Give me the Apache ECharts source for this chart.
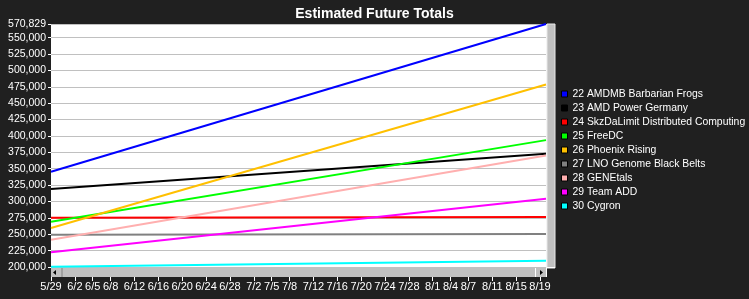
<!DOCTYPE html>
<html>
<head>
<meta charset="utf-8">
<script src="https://cdn.jsdelivr.net/npm/echarts@6/dist/echarts.min.js"></script>
<style>
html,body{margin:0;padding:0;background:#202020;}
#c{width:749px;height:299px;}
</style>
</head>
<body>
<div id="c"></div>
<script>
// Daily categories 5/29 .. 8/20
var categories = [
  "5/29","5/30","5/31",
  "6/1","6/2","6/3","6/4","6/5","6/6","6/7","6/8","6/9","6/10","6/11","6/12","6/13","6/14","6/15",
  "6/16","6/17","6/18","6/19","6/20","6/21","6/22","6/23","6/24","6/25","6/26","6/27","6/28","6/29","6/30",
  "7/1","7/2","7/3","7/4","7/5","7/6","7/7","7/8","7/9","7/10","7/11","7/12","7/13","7/14","7/15","7/16",
  "7/17","7/18","7/19","7/20","7/21","7/22","7/23","7/24","7/25","7/26","7/27","7/28","7/29","7/30","7/31",
  "8/1","8/2","8/3","8/4","8/5","8/6","8/7","8/8","8/9","8/10","8/11","8/12","8/13","8/14","8/15","8/16",
  "8/17","8/18","8/19","8/20"
];
// Labelled ticks on the x axis
var tickLabels = ["5/29","6/2","6/5","6/8","6/12","6/16","6/20","6/24","6/28","7/2","7/5","7/8",
  "7/12","7/16","7/20","7/24","7/28","8/1","8/4","8/7","8/11","8/15","8/19"];

var seriesNames = [
  "22 AMDMB Barbarian Frogs",
  "23 AMD Power Germany",
  "24 SkzDaLimit Distributed Computing",
  "25 FreeDC",
  "26 Phoenix Rising",
  "27 LNO Genome Black Belts",
  "28 GENEtals",
  "29 Team ADD",
  "30 Cygron"
];
// Estimated totals on the first (5/29) and last (8/20) day
var startValues = [345300, 318900, 275150, 269050, 259450, 249250, 241600, 222400, 200450];
var endValues   = [570829, 372700, 276200, 393600, 478500, 250300, 370300, 304100, 209600];

var yMin = 200000, yMax = 570829, yStep = 25000;

var colors = ["#0000ff","#000000","#ff0000","#00ff00","#ffc000","#808080","#ffafaf","#ff00ff","#00ffff"];

var chart = echarts.init(document.getElementById('c'), null, {renderer:'canvas'});
var FONT = "Liberation Sans";
var showTick = function(idx, val){ return tickLabels.indexOf(val) >= 0; };

var series = seriesNames.map(function(n, i){
  return {
    name: n, type: 'line', symbol: 'none', silent: true,
    lineStyle: {width: 2, color: colors[i]},
    itemStyle: {color: colors[i], borderColor: '#000', borderWidth: 1},
    data: [[categories[0], startValues[i]], [categories[categories.length-1], endValues[i]]],
    animation: false
  };
});

chart.setOption({
  backgroundColor: '#202020',
  animation: false,
  title: {
    text: 'Estimated Future Totals', left: 'center', top: 2,
    textStyle: {color: '#fff', fontFamily: FONT, fontWeight: 'bold', fontSize: 14}
  },
  grid: {left: 51, top: 24, width: 495, height: 243, show: true, backgroundColor: '#fff', borderWidth: 0, containLabel: false},
  xAxis: {
    type: 'category', data: categories, boundaryGap: false, offset: 10,
    axisLine: {show: false},
    axisTick: {show: true, interval: showTick, length: 4, lineStyle: {color: '#fff'}},
    axisLabel: {interval: showTick, color: '#fff', fontFamily: FONT, fontSize: 11, margin: 4},
    splitLine: {show: false}
  },
  yAxis: {
    type: 'value', min: yMin, max: yMax, interval: yStep,
    axisLine: {show: false},
    axisTick: {show: true, length: 3, lineStyle: {color: '#fff'}},
    axisLabel: {color: '#fff', fontFamily: FONT, fontSize: 10.5, margin: 5, showMaxLabel: true, showMinLabel: true},
    splitLine: {show: true, lineStyle: {color: '#c0c0c0', width: 1}}
  },
  legend: {
    orient: 'vertical', left: 556, top: 82, itemWidth: 6, itemHeight: 6, itemGap: 0,
    icon: 'rect', selectedMode: false,
    textStyle: {color: '#fff', fontFamily: FONT, fontSize: 10.4, lineHeight: 14},
    data: seriesNames.map(function(n, i){ return {name: n, itemStyle: {color: colors[i], borderColor: '#000', borderWidth: 1}}; })
  },
  graphic: [
    // horizontal scrollbar under the plot
    {type: 'rect', shape: {x: 51, y: 268, width: 495, height: 9}, style: {fill: '#c0c0c0'}, silent: true},
    {type: 'line', shape: {x1: 62, y1: 268, x2: 62, y2: 277}, style: {stroke: '#808080', lineWidth: 1}, silent: true},
    {type: 'polygon', shape: {points: [[53, 272.5], [56, 270], [56, 275]]}, style: {fill: '#000'}, silent: true},
    {type: 'line', shape: {x1: 535.5, y1: 268, x2: 535.5, y2: 277}, style: {stroke: '#ffffff', lineWidth: 1}, silent: true},
    {type: 'polygon', shape: {points: [[543, 272.5], [540, 270], [540, 275]]}, style: {fill: '#000'}, silent: true},
    // vertical scrollbar at the right of the plot
    {type: 'line', shape: {x1: 546.5, y1: 24, x2: 546.5, y2: 277}, style: {stroke: '#ffffff', lineWidth: 1}, silent: true},
    {type: 'rect', shape: {x: 547, y: 24, width: 8, height: 244}, style: {fill: '#c0c0c0', stroke: '#e8e8e8', lineWidth: 1}, silent: true},
    {type: 'line', shape: {x1: 547, y1: 267.5, x2: 555, y2: 267.5}, style: {stroke: '#ffffff', lineWidth: 1}, silent: true}
  ],
  series: series
});
</script>
</body>
</html>
